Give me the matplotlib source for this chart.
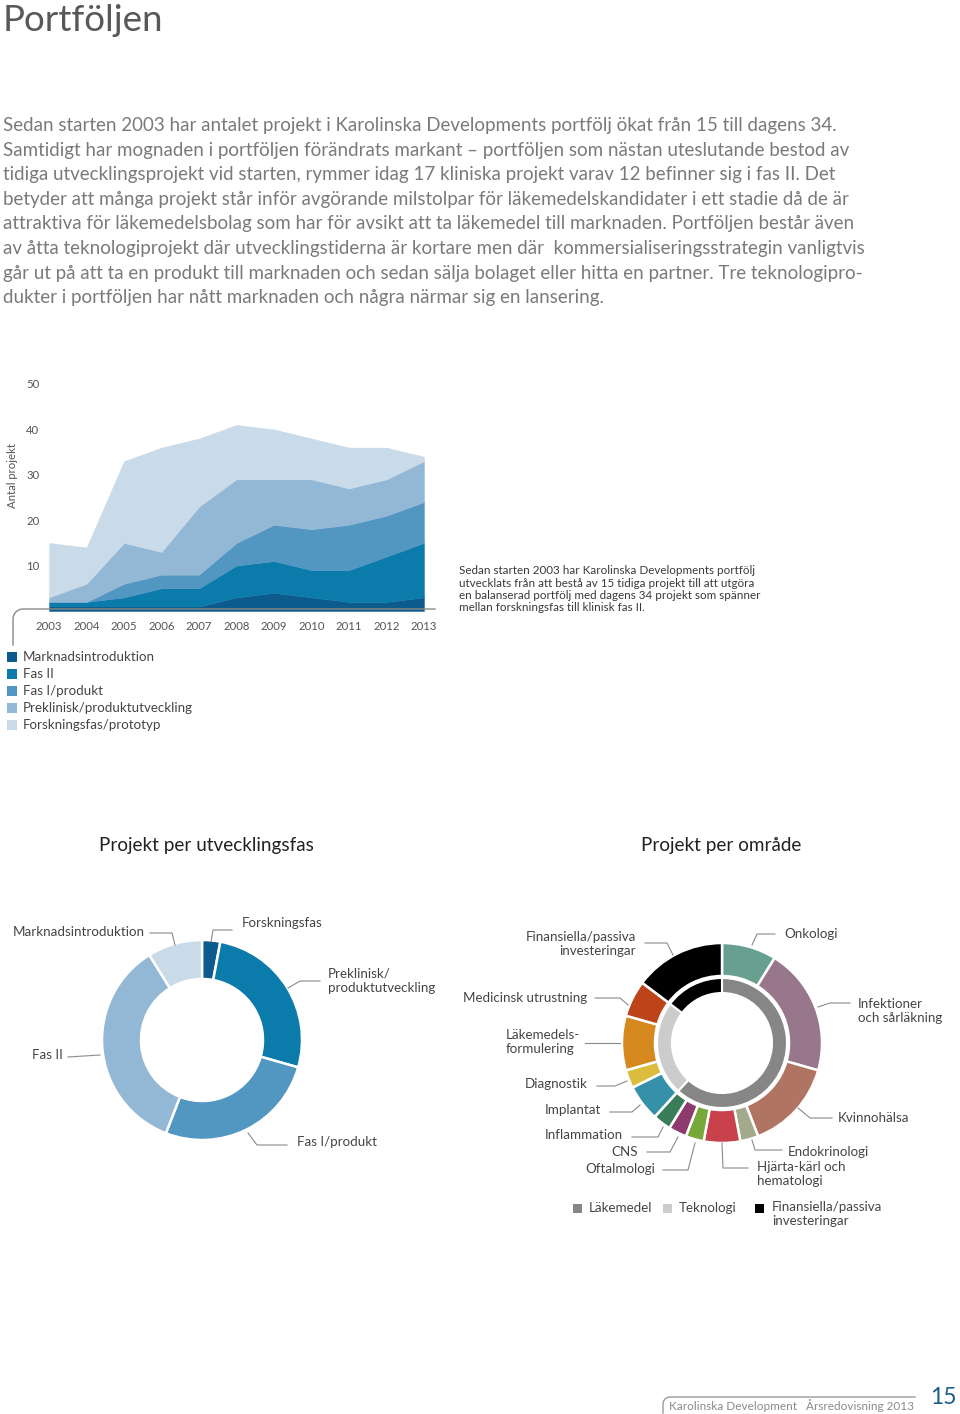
import numpy as np
import matplotlib.pyplot as plt
from matplotlib.lines import Line2D
from matplotlib.patches import Rectangle

plt.rcParams['font.family'] = ['Lato', 'DejaVu Sans']

W, H = 960, 1414

# --- data: stacked area, number of projects per phase and year ---
years = list(range(2003, 2014))
marknad = [1, 1, 1, 1, 1, 3, 4, 3, 2, 2, 3]
fas2 = [1, 1, 2, 4, 4, 7, 7, 6, 7, 10, 12]
fas1 = [0, 0, 3, 3, 3, 5, 8, 9, 10, 9, 9]
preklin = [1, 4, 9, 5, 15, 14, 10, 11, 8, 8, 9]
forskning = [12, 8, 18, 23, 15, 12, 11, 9, 9, 7, 1]
area_names = ['Marknadsintroduktion', 'Fas II', 'Fas I/produkt',
              'Preklinisk/produktutveckling', 'Forskningsfas/prototyp']
yticks = [10, 20, 30, 40, 50]

# --- data: projects per phase (donut 1), clockwise from 12 o'clock ---
fas_labels = ['Forskningsfas', 'Preklinisk/\nproduktutveckling', 'Fas I/produkt',
              'Fas II', 'Marknadsintroduktion']
fas_counts = [1, 9, 9, 12, 3]

# --- data: projects per area (donut 2), clockwise from 12 o'clock ---
omr_labels = ['Onkologi', 'Infektioner\noch sårläkning', 'Kvinnohälsa', 'Endokrinologi',
              'Hjärta-kärl och\nhematologi', 'Oftalmologi', 'CNS', 'Inflammation',
              'Implantat', 'Diagnostik', 'Läkemedels-\nformulering',
              'Medicinsk utrustning', 'Finansiella/passiva\ninvesteringar']
omr_counts = [3, 7, 5, 1, 2, 1, 1, 1, 2, 1, 3, 2, 5]
typ_labels = ['Läkemedel', 'Teknologi', 'Finansiella/passiva\ninvesteringar']
typ_counts = [21, 8, 5]

paragraph = [
    "Sedan starten 2003 har antalet projekt i Karolinska Developments portfölj ökat från 15 till dagens 34.",
    "Samtidigt har mognaden i portföljen förändrats markant – portföljen som nästan uteslutande bestod av",
    "tidiga utvecklingsprojekt vid starten, rymmer idag 17 kliniska projekt varav 12 befinner sig i fas II. Det",
    "betyder att många projekt står inför avgörande milstolpar för läkemedelskandidater i ett stadie då de är",
    "attraktiva för läkemedelsbolag som har för avsikt att ta läkemedel till marknaden. Portföljen består även",
    "av åtta teknologiprojekt där utvecklingstiderna är kortare men där  kommersialiseringsstrategin vanligtvis",
    "går ut på att ta en produkt till marknaden och sedan sälja bolaget eller hitta en partner. Tre teknologipro-",
    "dukter i portföljen har nått marknaden och några närmar sig en lansering.",
]
side_note = [
    "Sedan starten 2003 har Karolinska Developments portfölj",
    "utvecklats från att bestå av 15 tidiga projekt till att utgöra",
    "en balanserad portfölj med dagens 34 projekt som spänner",
    "mellan forskningsfas till klinisk fas II.",
]

blues = ['#0d5b8c', '#0b7bab', '#5296c2', '#93b8d6', '#c9dae9']
omr_colors = ['#679f90', '#98768c', '#b07562', '#a3aa8c', '#c8414b', '#77a83a',
              '#8e3a6e', '#3b7c5a', '#3591aa', '#dcbc3c', '#d4881e', '#bc4418', '#000000']
typ_colors = ['#868686', '#cccccc', '#000000']

LABEL_FS = 9.6

fig = plt.figure(figsize=(W / 100, H / 100), dpi=100)


def txt(x, y, s, **kw):
    kw.setdefault('va', 'center')
    kw.setdefault('color', '#555555')
    fig.text(x / W, 1 - y / H, s, **kw)


def fline(pts, color='#8a8a8a', lw=0.8):
    xs = [p[0] / W for p in pts]
    ys = [1 - p[1] / H for p in pts]
    fig.add_artist(Line2D(xs, ys, transform=fig.transFigure, color=color, lw=lw))


def square(x, y, size, color):
    fig.add_artist(Rectangle((x / W, 1 - (y + size / 2) / H), size / W, size / H,
                             transform=fig.transFigure, facecolor=color, edgecolor='none'))


def bracket(x0, y0, x1, ybot, r, color='#8a8a8a'):
    # vertical stroke down from a rounded corner, then a horizontal rule
    t = np.linspace(np.pi, 1.5 * np.pi, 12)
    arc = [(x0 + r + r * np.cos(a), y0 + r + r * np.sin(a)) for a in t]
    fline([(x0, ybot)] + arc + [(x1, y0)], color=color, lw=1.0)


# header
txt(3, 31, 'Portföljen', va='baseline', fontsize=26.5, color='#585858')
for i, line in enumerate(paragraph):
    txt(3, 131 + i * 24.6, line, va='baseline', fontsize=13.5, color='#7a7a7a')

# --- stacked area chart ---
ax = fig.add_axes([49 / W, 1 - 611 / H, 375 / W, 227 / H])
ax.stackplot(years, marknad, fas2, fas1, preklin, forskning, colors=blues,
             edgecolor='face', linewidth=0.3)
ax.set_xlim(2003, 2013)
ax.set_ylim(0, 50)
ax.set_yticks(yticks)
ax.set_xticks(years)
ax.tick_params(length=0, labelsize=8.2, labelcolor='#555555')
ax.tick_params(axis='y', pad=7)
ax.tick_params(axis='x', pad=7)
for s in ax.spines.values():
    s.set_visible(False)
ax.set_facecolor('none')
txt(13, 475, 'Antal projekt', rotation=90, ha='center', fontsize=8.2)
bracket(13, 609, 435, 645, 10)

for i, line in enumerate(side_note):
    txt(459, 571 + i * 12.2, line, fontsize=8.4, color='#3a3a3a')

for i, (name, c) in enumerate(zip(area_names, blues)):
    square(7, 657 + i * 17, 10, c)
    txt(23, 657 + i * 17, name, fontsize=LABEL_FS, color='#444444')

# --- section titles ---
txt(99, 845, 'Projekt per utvecklingsfas', fontsize=13.6, color='#222222')
txt(641, 845, 'Projekt per område', fontsize=13.6, color='#222222')

# --- donut 1 ---
ax1 = fig.add_axes([(202 - 110) / W, 1 - (1040 + 110) / H, 220 / W, 220 / H])
ax1.pie(fas_counts, colors=blues, startangle=90, counterclock=False, radius=1,
        wedgeprops=dict(width=0.39, edgecolor='white', linewidth=1.8))
ax1.set_xlim(-1.1, 1.1)
ax1.set_ylim(-1.1, 1.1)

fas_pos = [(242, 923, 'left'), (328, 981, 'left'), (297, 1142, 'left'),
           (32, 1055, 'left'), (13, 932, 'left')]
fas_leaders = [[(232, 930), (213, 930), (211, 942)],
               [(320, 981), (300, 981), (288, 988)],
               [(287, 1145), (257, 1145), (248, 1133)],
               [(68, 1057), (100, 1055)],
               [(150, 933), (172, 933), (175, 945)]]
for lab, (x, y, ha), ld in zip(fas_labels, fas_pos, fas_leaders):
    txt(x, y, lab, ha=ha, fontsize=LABEL_FS, color='#444444', linespacing=1.3)
    fline(ld)

# --- donut 2 ---
ax2 = fig.add_axes([(722 - 110) / W, 1 - (1043 + 110) / H, 220 / W, 220 / H])
ax2.pie(omr_counts, colors=omr_colors, startangle=90, counterclock=False, radius=1,
        wedgeprops=dict(width=0.33, edgecolor='white', linewidth=1.8))
ax2.pie(typ_counts, colors=typ_colors, startangle=90, counterclock=False, radius=0.65,
        wedgeprops=dict(width=0.15, edgecolor='white', linewidth=1.5))
ax2.set_xlim(-1.1, 1.1)
ax2.set_ylim(-1.1, 1.1)

omr_pos = [(784, 934, 'left'), (858, 1011, 'left'), (838, 1118, 'left'),
           (788, 1152, 'left'), (757, 1174, 'left'), (655, 1169, 'right'),
           (638, 1152, 'right'), (623, 1135, 'right'), (601, 1110, 'right'),
           (588, 1084, 'right'), (506, 1042, 'left'), (587, 998, 'right'),
           (636, 944, 'right')]
omr_leaders = [[(775, 934), (757, 934), (752, 945)],
               [(850, 1003), (830, 1003), (818, 1007)],
               [(832, 1118), (810, 1118), (798, 1108)],
               [(782, 1150), (755, 1150), (752, 1140)],
               [(748, 1168), (723, 1168), (722, 1143)],
               [(663, 1170), (688, 1170), (695, 1143)],
               [(647, 1152), (670, 1152), (678, 1137)],
               [(632, 1137), (658, 1137), (663, 1127)],
               [(610, 1112), (632, 1112), (640, 1105)],
               [(597, 1086), (615, 1086), (627, 1081)],
               [(585, 1043), (620, 1043)],
               [(595, 998), (620, 998), (628, 1005)],
               [(645, 943), (667, 943), (673, 955)]]
for lab, (x, y, ha), ld in zip(omr_labels, omr_pos, omr_leaders):
    txt(x, y, lab, ha=ha, multialignment=ha, fontsize=LABEL_FS, color='#444444',
        linespacing=1.2)
    fline(ld)

for (x, name), c in zip([(573, typ_labels[0]), (663, typ_labels[1]), (755, typ_labels[2])],
                        typ_colors):
    square(x, 1208, 9, c)
    if '\n' in name:
        txt(x + 17, 1214, name, fontsize=LABEL_FS, color='#444444', linespacing=1.2)
    else:
        txt(x + 16, 1208, name, fontsize=LABEL_FS, color='#444444')

# --- footer ---
bracket(663, 1397, 915, 1413, 7, color='#9a9a9a')
txt(669, 1406, 'Karolinska Development   Årsredovisning 2013', fontsize=8.5, color='#8a8a8a')
txt(930, 1397, '15', fontsize=16.5, color='#1b5f86')

fig.savefig('out.png', dpi=100)
